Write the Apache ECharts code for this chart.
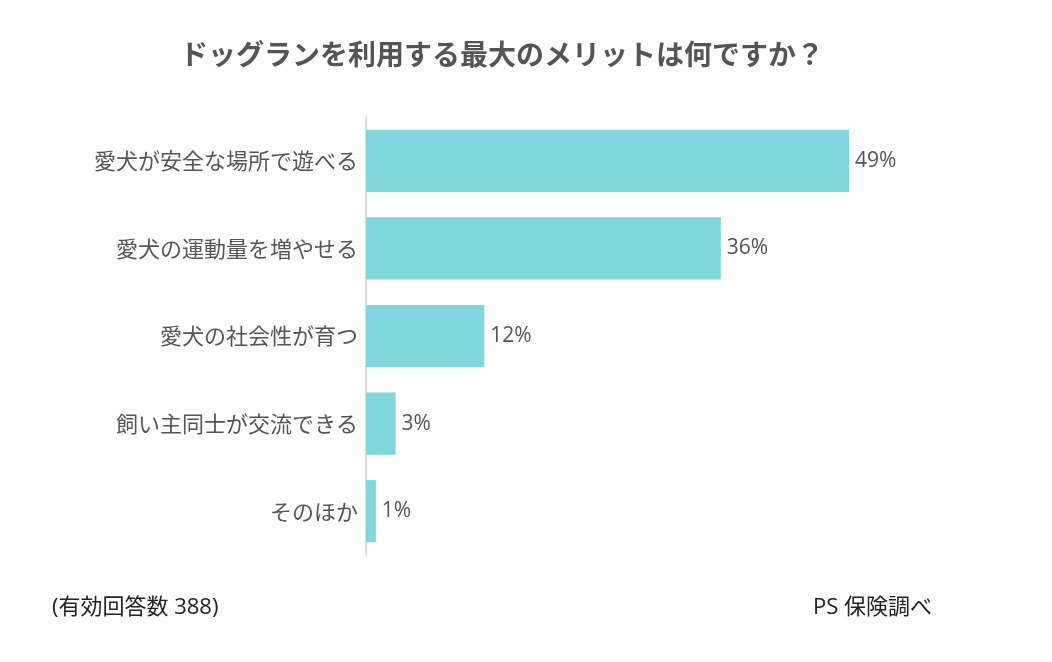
<!DOCTYPE html>
<html><head><meta charset="utf-8">
<script src="https://cdn.jsdelivr.net/npm/echarts@6/dist/echarts.min.js"></script>
<style>html,body{margin:0;padding:0;background:#fff}#c{width:1052px;height:662px}</style>
</head><body><div id="c"></div>
<script>
const categories = ['愛犬が安全な場所で遊べる','愛犬の運動量を増やせる','愛犬の社会性が育つ','飼い主同士が交流できる','そのほか'];
const values = [49, 36, 12, 3, 1];
const titleText = 'ドッグランを利用する最大のメリットは何ですか？';
const noteLeft = '(有効回答数 388)';
const noteRight = 'PS 保険調べ';

const chart = echarts.init(document.getElementById('c'));
const ff = '"Open Sans","Noto Sans CJK JP",sans-serif';
chart.setOption({
  backgroundColor: '#fff',
  animation: false,
  title: {
    text: titleText, left: 497, top: 35, textAlign: 'center',
    textStyle: {fontSize: 28, fontWeight: 'bold', color: '#555', fontFamily: '"Noto Sans CJK JP",sans-serif'}
  },
  graphic: [
    {type: 'text', left: 52, top: 597, style: {text: noteLeft, fontSize: 22, fill: '#222', fontFamily: ff}},
    {type: 'text', left: 813, top: 597, style: {text: noteRight, fontSize: 22, fill: '#222', fontFamily: ff}}
  ],
  grid: {left: 366, right: 1052 - 366 - 9.857 * 60, top: 117, bottom: 662 - 555, containLabel: false},
  xAxis: {type: 'value', min: 0, max: 60, show: false},
  yAxis: {
    type: 'category', data: categories, inverse: true,
    axisLine: {show: true, lineStyle: {color: '#d0d0d0', width: 1.5}},
    axisTick: {show: false},
    axisLabel: {fontSize: 22, color: '#555', margin: 8, fontFamily: '"Noto Sans CJK JP",sans-serif'}
  },
  series: [{
    type: 'bar', data: values, barWidth: '71%',
    itemStyle: {color: '#80D8DC'},
    label: {show: true, position: 'right', distance: 6, formatter: '{c}%', fontSize: 21, color: '#555', fontFamily: ff}
  }]
});
</script></body></html>
